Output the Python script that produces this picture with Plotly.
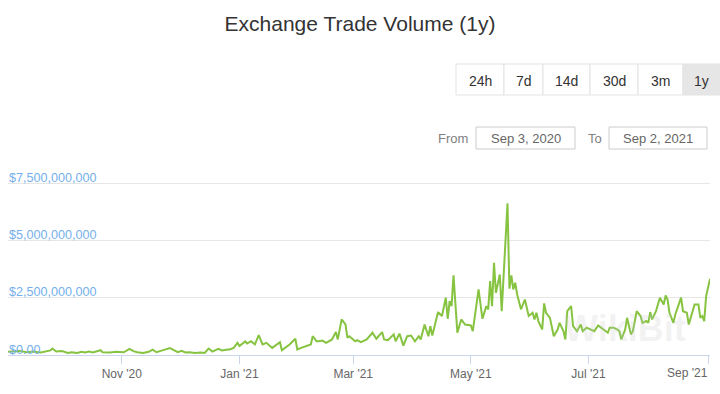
import plotly.graph_objects as go

# ---------------- data ----------------
dates = [
    "2020-09-03", "2020-09-06", "2020-09-09", "2020-09-13", "2020-09-16", "2020-09-20", "2020-09-22",
    "2020-09-25", "2020-09-26", "2020-09-28", "2020-10-01", "2020-10-04", "2020-10-06", "2020-10-09",
    "2020-10-11", "2020-10-13", "2020-10-15", "2020-10-17", "2020-10-21", "2020-10-22", "2020-10-26",
    "2020-10-29", "2020-11-02", "2020-11-05", "2020-11-07", "2020-11-09", "2020-11-12", "2020-11-15",
    "2020-11-17", "2020-11-19", "2020-11-22", "2020-11-24", "2020-11-26", "2020-11-28", "2020-11-30",
    "2020-12-02", "2020-12-04", "2020-12-06", "2020-12-09", "2020-12-12", "2020-12-14", "2020-12-16",
    "2020-12-18", "2020-12-21", "2020-12-23", "2020-12-26", "2020-12-27", "2020-12-29", "2020-12-31",
    "2021-01-01", "2021-01-04", "2021-01-05", "2021-01-07", "2021-01-09", "2021-01-11", "2021-01-13",
    "2021-01-15", "2021-01-18", "2021-01-20", "2021-01-22", "2021-01-23", "2021-01-26", "2021-01-27",
    "2021-01-30", "2021-01-31", "2021-02-02", "2021-02-05", "2021-02-07", "2021-02-08", "2021-02-10",
    "2021-02-11", "2021-02-13", "2021-02-15", "2021-02-18", "2021-02-20", "2021-02-21", "2021-02-23",
    "2021-02-25", "2021-02-26", "2021-02-27", "2021-03-02", "2021-03-03", "2021-03-05", "2021-03-08",
    "2021-03-11", "2021-03-13", "2021-03-16", "2021-03-17", "2021-03-19", "2021-03-22", "2021-03-23",
    "2021-03-25", "2021-03-27", "2021-03-29", "2021-03-31", "2021-04-02", "2021-04-04", "2021-04-05",
    "2021-04-07", "2021-04-09", "2021-04-10", "2021-04-11", "2021-04-14", "2021-04-16", "2021-04-18",
    "2021-04-19", "2021-04-20", "2021-04-21", "2021-04-22", "2021-04-24", "2021-04-26", "2021-04-28",
    "2021-05-01", "2021-05-02", "2021-05-05", "2021-05-07", "2021-05-09", "2021-05-10", "2021-05-11",
    "2021-05-12", "2021-05-13", "2021-05-14", "2021-05-16", "2021-05-17", "2021-05-20", "2021-05-21",
    "2021-05-22", "2021-05-23", "2021-05-24", "2021-05-25", "2021-05-27", "2021-05-29", "2021-05-31",
    "2021-06-02", "2021-06-03", "2021-06-04", "2021-06-05", "2021-06-07", "2021-06-08", "2021-06-09",
    "2021-06-11", "2021-06-12", "2021-06-13", "2021-06-15", "2021-06-16", "2021-06-18", "2021-06-19",
    "2021-06-20", "2021-06-22", "2021-06-23", "2021-06-25", "2021-06-27", "2021-06-28", "2021-06-30",
    "2021-07-02", "2021-07-04", "2021-07-06", "2021-07-09", "2021-07-11", "2021-07-12", "2021-07-14",
    "2021-07-16", "2021-07-17", "2021-07-18", "2021-07-20", "2021-07-21", "2021-07-23", "2021-07-24",
    "2021-07-26", "2021-07-28", "2021-07-29", "2021-07-31", "2021-08-01", "2021-08-02", "2021-08-03",
    "2021-08-05", "2021-08-07", "2021-08-09", "2021-08-10", "2021-08-11", "2021-08-12", "2021-08-14",
    "2021-08-15", "2021-08-18", "2021-08-19", "2021-08-21", "2021-08-22", "2021-08-24", "2021-08-25",
    "2021-08-27", "2021-08-28", "2021-08-29", "2021-08-30", "2021-08-31", "2021-09-02",
]

# trade volume, billions of USD
volume_bn = [
    0.14, 0.15, 0.17, 0.12, 0.15, 0.11, 0.15,
    0.20, 0.28, 0.15, 0.17, 0.09, 0.12, 0.09,
    0.14, 0.11, 0.15, 0.11, 0.21, 0.12, 0.11,
    0.14, 0.12, 0.27, 0.17, 0.12, 0.09, 0.14,
    0.23, 0.12, 0.20, 0.24, 0.30, 0.21, 0.12,
    0.18, 0.11, 0.12, 0.09, 0.11, 0.09, 0.28,
    0.15, 0.27, 0.20, 0.24, 0.24, 0.31, 0.53,
    0.39, 0.59, 0.50, 0.60, 0.46, 0.87, 0.46,
    0.53, 0.31, 0.42, 0.56, 0.21, 0.39, 0.46,
    0.71, 0.24, 0.31, 0.39, 0.46, 0.82, 0.60,
    0.60, 0.63, 0.53, 0.68, 1.00, 0.68, 1.55,
    1.33, 0.75, 0.82, 0.60, 0.65, 0.56, 0.68,
    0.97, 0.71, 1.00, 0.68, 0.65, 0.90, 0.60,
    0.93, 0.41, 0.82, 0.85, 0.60, 0.82, 0.68,
    1.33, 0.82, 1.26, 0.85, 1.87, 1.70, 2.50,
    1.58, 2.35, 2.13, 3.47, 0.97, 1.55, 1.33,
    1.29, 1.04, 2.86, 1.58, 2.13, 1.99, 3.22,
    2.13, 4.02, 2.71, 3.51, 1.91, 6.61, 2.89,
    3.47, 2.86, 3.15, 2.64, 1.99, 2.42, 1.70,
    1.84, 1.55, 1.84, 1.48, 1.11, 2.25, 1.84,
    1.62, 1.26, 0.82, 1.11, 1.40, 1.04, 0.68,
    1.91, 2.13, 1.26, 1.04, 1.33, 1.04, 1.19,
    1.11, 1.04, 1.29, 1.11, 0.97, 1.19, 1.19,
    1.11, 1.04, 0.68, 1.11, 1.62, 0.90, 1.04,
    1.91, 1.70, 1.40, 1.48, 1.40, 1.87, 1.55,
    1.91, 2.50, 2.20, 2.60, 2.42, 1.84, 1.40,
    1.77, 2.50, 1.91, 1.84, 1.33, 1.91, 2.20,
    2.20, 1.62, 1.70, 1.48, 2.57, 3.32,
]
volume_usd = [v * 1e9 for v in volume_bn]

y_tick_vals = [0, 2.5e9, 5e9, 7.5e9]
y_tick_text = ["$0.00", "$2,500,000,000", "$5,000,000,000", "$7,500,000,000"]
x_tick_vals = ["2020-11-01", "2021-01-01", "2021-03-01", "2021-05-01", "2021-07-01", "2021-09-01"]
x_tick_text = ["Nov '20", "Jan '21", "Mar '21", "May '21", "Jul '21", "Sep '21"]
range_buttons = ["24h", "7d", "14d", "30d", "3m", "1y"]
selected_button = "1y"
from_date = "Sep 3, 2020"
to_date = "Sep 2, 2021"
title_text = "Exchange Trade Volume (1y)"

# ---------------- layout helpers (pixel -> paper) ----------------
W, H = 720, 394
Y_MAX_TICK = 7.5e9
GRID_TOP_PX = 183          # pixel row of the top gridline
ML, MR, MT, MB = 8, 10, 162, 39
PW, PH = W - ML - MR, H - MT - MB
# extend the value range a bit above the top gridline so its inside label fits
Y_RANGE_MAX = Y_MAX_TICK * PH / (H - MB - GRID_TOP_PX)


def px(x):
    return (x - ML) / PW


def py(y):
    return (H - MB - y) / PH


FONT = "Liberation Sans, Arial, sans-serif"

fig = go.Figure()
fig.add_trace(go.Scatter(
    x=dates, y=volume_usd, mode="lines",
    line=dict(color="#86c341", width=2),
    hovertemplate="%{x|%b %d, %Y}<br>$%{y:,.0f}<extra></extra>",
    showlegend=False,
))

shapes = []
annotations = []

# range buttons
btn_edges = [456, 504, 543, 590, 638, 683, 722]
btn_top, btn_bot = 64, 95
for i, label in enumerate(range_buttons):
    x0, x1 = btn_edges[i], btn_edges[i + 1]
    shapes.append(dict(
        type="rect", xref="paper", yref="paper",
        x0=px(x0), x1=px(x1), y0=py(btn_bot), y1=py(btn_top),
        line=dict(color="#e3e3e3", width=1),
        fillcolor="#e6e6e6" if label == selected_button else "#ffffff",
        layer="above",
    ))
    annotations.append(dict(
        xref="paper", yref="paper", x=px((x0 + min(x1, 720)) / 2), y=py((btn_top + btn_bot) / 2 + 1),
        text=label, showarrow=False, xanchor="center", yanchor="middle",
        font=dict(family=FONT, size=14, color="#333333"),
    ))

# date inputs
annotations.append(dict(xref="paper", yref="paper", x=px(453), y=py(138), text="From",
                        showarrow=False, xanchor="center", yanchor="middle",
                        font=dict(family=FONT, size=13, color="#808080")))
annotations.append(dict(xref="paper", yref="paper", x=px(595), y=py(138), text="To",
                        showarrow=False, xanchor="center", yanchor="middle",
                        font=dict(family=FONT, size=13, color="#808080")))
for (x0, x1), txt in zip([(476, 575), (609, 707)], [from_date, to_date]):
    shapes.append(dict(type="rect", xref="paper", yref="paper",
                       x0=px(x0), x1=px(x1), y0=py(149), y1=py(127),
                       line=dict(color="#cccccc", width=1), fillcolor="#ffffff"))
    annotations.append(dict(xref="paper", yref="paper", x=px((x0 + x1) / 2), y=py(138), text=txt,
                            showarrow=False, xanchor="center", yanchor="middle",
                            font=dict(family=FONT, size=13, color="#666666")))

# last x tick label is kept inside the chart edge (Highcharts-style)
x_tick_text_axis = x_tick_text[:-1] + [""]
annotations.append(dict(xref="paper", yref="paper", x=1.0, y=py(373), text=x_tick_text[-1],
                        showarrow=False, xanchor="right", yanchor="middle",
                        font=dict(family=FONT, size=12, color="#666666")))

# faint watermark
annotations.append(dict(xref="paper", yref="paper", x=px(625), y=py(328), text="<b>WikiBit</b>",
                        showarrow=False, xanchor="center", yanchor="middle",
                        font=dict(family=FONT, size=36, color="rgba(200,200,200,0.22)")))

fig.update_layout(
    width=W, height=H,
    margin=dict(l=ML, r=MR, t=MT, b=MB, pad=0),
    paper_bgcolor="#ffffff", plot_bgcolor="#ffffff",
    title=dict(text=title_text, x=0.5, xref="container", xanchor="center",
               y=1 - 24 / H, yref="container", yanchor="middle",
               font=dict(family=FONT, size=21, color="#333333")),
    xaxis=dict(
        type="date", range=["2020-09-03", "2021-09-02"],
        tickvals=x_tick_vals, ticktext=x_tick_text_axis,
        showgrid=False, zeroline=False,
        showline=True, linecolor="#ccd6eb", linewidth=1,
        ticks="outside", ticklen=8, tickcolor="#ccd6eb", tickwidth=1,
        ticklabelstandoff=0,
        tickfont=dict(family=FONT, size=12, color="#666666"),
        fixedrange=True,
    ),
    yaxis=dict(
        range=[0, Y_RANGE_MAX], tickvals=y_tick_vals, ticktext=y_tick_text,
        showgrid=True, gridcolor="#e6e6e6", gridwidth=1, zeroline=False,
        ticks="", ticklabelposition="inside top", ticklabeloverflow="allow",
        ticklabelstandoff=-2, ticklabelshift=3,
        tickfont=dict(family=FONT, size=12.6, color="#74b0ec"),
        fixedrange=True,
    ),
    shapes=shapes, annotations=annotations,
    hovermode="x",
)

fig.write_html("out.html", config={"displayModeBar": False},
               post_script="document.body.style.margin='0';")
